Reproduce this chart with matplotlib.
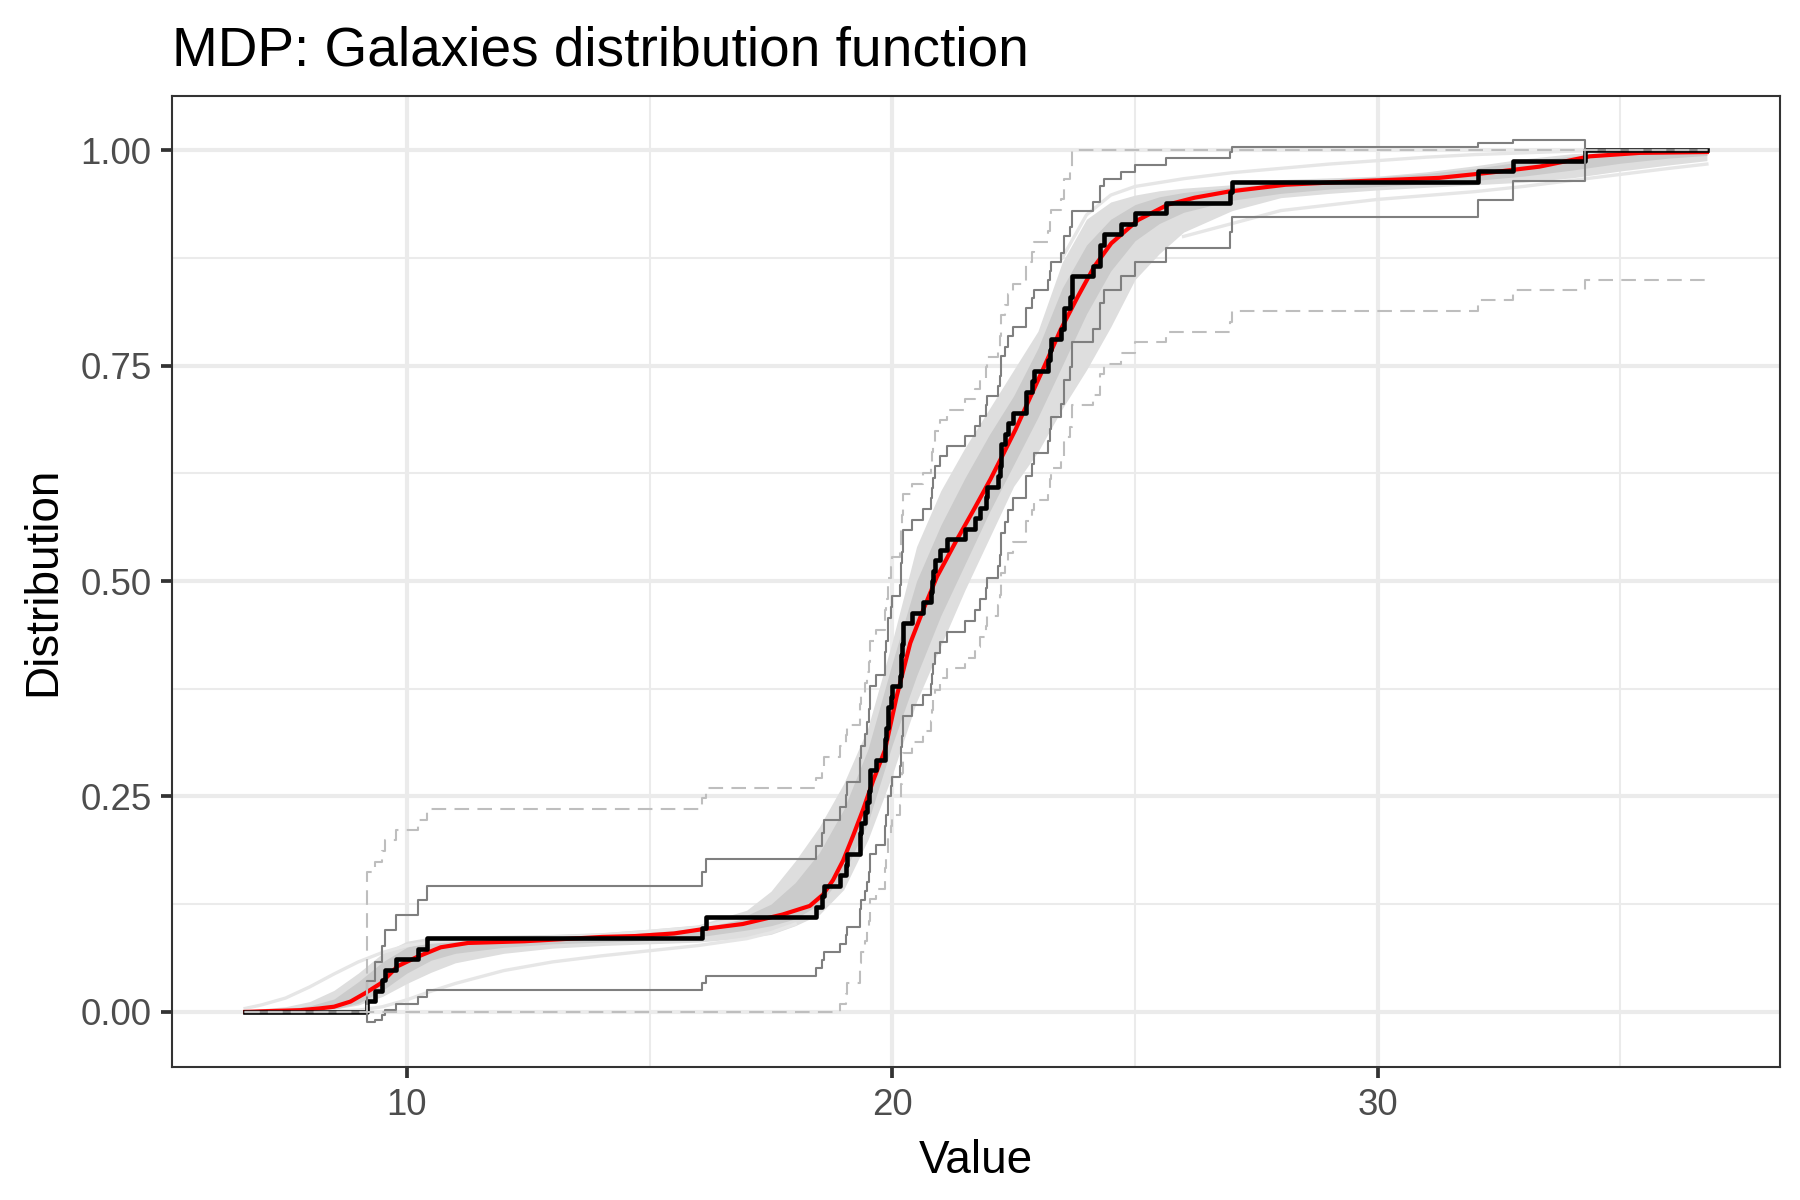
import matplotlib
matplotlib.use("Agg")
import matplotlib.pyplot as plt
import numpy as np

plt.rcParams['font.family'] = ['Liberation Sans', 'DejaVu Sans']

# galaxies velocities (1000 km/s)
galaxies = [9.172, 9.350, 9.483, 9.558, 9.775, 10.227, 10.406, 16.084, 16.170, 18.419,
            18.552, 18.600, 18.927, 19.052, 19.070, 19.330, 19.343, 19.349, 19.440, 19.473,
            19.529, 19.541, 19.547, 19.663, 19.846, 19.856, 19.863, 19.914, 19.918, 19.973,
            19.989, 20.166, 20.175, 20.179, 20.196, 20.215, 20.221, 20.415, 20.629, 20.795,
            20.821, 20.846, 20.875, 20.986, 21.137, 21.492, 21.701, 21.814, 21.921, 21.960,
            22.185, 22.209, 22.242, 22.249, 22.314, 22.374, 22.495, 22.746, 22.747, 22.888,
            22.914, 23.206, 23.241, 23.263, 23.484, 23.538, 23.542, 23.666, 23.706, 23.711,
            24.129, 24.285, 24.289, 24.366, 24.717, 24.990, 25.633, 26.960, 26.995, 32.065,
            32.789, 34.279]
x_lo, x_hi = 6.67, 36.78

# pointwise band (solid) read at each observation
upper_solid = [.036, .058, .077, .095, .113, .130, .146, .162, .178, .193,
               .208, .223, .238, .252, .267, .281, .295, .309, .323, .337,
               .351, .364, .378, .391, .405, .418, .431, .444, .457, .470,
               .483, .496, .509, .521, .534, .546, .559, .571, .584, .596,
               .608, .620, .633, .645, .657, .668, .680, .692, .704, .715,
               .727, .738, .750, .761, .772, .784, .795, .806, .817, .828,
               .838, .849, .860, .870, .881, .891, .901, .911, .921, .930,
               .940, .949, .958, .967, .975, .983, .991, .998, 1.004, 1.009,
               1.0116, 1.0]
lower_solid = [-.012, -.009, -.004, .002, .009, .017, .025, .033, .042, .051,
               .060, .070, .079, .089, .099, .109, .120, .130, .140, .151,
               .162, .172, .183, .194, .205, .216, .228, .239, .250, .262,
               .273, .285, .296, .308, .320, .332, .344, .356, .368, .380,
               .392, .404, .416, .429, .441, .454, .466, .479, .492, .504,
               .517, .530, .543, .556, .569, .582, .596, .609, .622, .636,
               .649, .663, .677, .691, .705, .719, .733, .748, .762, .777,
               .792, .807, .823, .838, .854, .870, .887, .905, .923, .942,
               .964, 1.0]
# simultaneous band (dashed)
upper_dash = [.162, .174, .187, .199, .211, .223, .235, .248, .260, .272,
              .284, .296, .309, .321, .333, .345, .357, .370, .382, .394,
              .406, .418, .431, .443, .455, .467, .479, .492, .504, .516,
              .528, .540, .552, .565, .577, .589, .601, .613, .626, .638,
              .650, .662, .674, .687, .699, .711, .723, .735, .748, .760,
              .772, .784, .796, .809, .821, .833, .845, .857, .870, .882,
              .894, .906, .918, .931, .943, .955, .967, .979, .992, 1.0,
              1.0, 1.0, 1.0, 1.0, 1.0, 1.0, 1.0, 1.0, 1.0, 1.0,
              1.0, 1.0]
lower_dash = [0, 0, 0, 0, 0, 0, 0, 0, 0, 0,
              0, 0, .009, .021, .033, .045, .057, .070, .082, .094,
              .106, .118, .131, .143, .155, .167, .179, .192, .204, .216,
              .228, .240, .252, .265, .277, .289, .301, .313, .326, .338,
              .350, .362, .374, .387, .399, .411, .423, .435, .448, .460,
              .472, .484, .496, .509, .521, .533, .545, .557, .570, .582,
              .594, .606, .618, .631, .643, .655, .667, .679, .692, .704,
              .716, .728, .740, .752, .765, .777, .789, .801, .813, .826,
              .838, .850]
lower_dash_end = 0.85

# posterior mean distribution (red)
mean_x = [6.67, 7.20, 7.81, 8.20, 8.50, 8.84, 9.15, 9.46, 9.81, 10.22, 10.70, 11.26, 12.42,
          14.02, 14.70, 15.50, 16.09, 16.92, 17.74, 18.30, 18.57, 18.78, 18.99, 19.19, 19.40,
          19.61, 19.85, 20.09, 20.37, 20.64, 20.92, 21.33, 21.68, 22.02, 22.30, 22.54, 23.13,
          23.47, 23.82, 24.16, 24.51, 25.06, 25.68, 26.23, 26.92, 28.10, 29.54, 31.27, 32.30,
          33.33, 34.37, 35.40, 36.78]
mean_y = [0.000, 0.001, 0.002, 0.004, 0.006, 0.012, 0.022, 0.033, 0.053, 0.064, 0.075, 0.080, 0.082,
          0.087, 0.088, 0.091, 0.096, 0.102, 0.113, 0.123, 0.136, 0.153, 0.176, 0.204, 0.235,
          0.269, 0.304, 0.366, 0.428, 0.467, 0.505, 0.548, 0.583, 0.618, 0.649, 0.676, 0.749,
          0.792, 0.830, 0.865, 0.892, 0.919, 0.937, 0.945, 0.952, 0.960, 0.964, 0.968, 0.974,
          0.981, 0.993, 0.997, 0.998]

# spread of posterior draws (grey): outer envelope and dense core
draws_x = [6.67, 7.5, 8.0, 8.5, 9.0, 9.5, 10.0, 10.5, 11.0, 12.0, 13.0, 14.0, 15.0, 16.0,
           17.0, 17.5, 18.0, 18.5, 19.0, 19.5, 20.0, 20.5, 21.0, 21.5, 22.0, 22.5, 23.0,
           23.5, 24.0, 24.5, 25.0, 25.5, 26.0, 27.0, 28.0, 29.0, 30.0, 31.0, 32.0, 33.0,
           34.0, 35.0, 36.0, 36.78]
draws_lo = [0.000, 0.000, 0.001, 0.003, 0.008, 0.018, 0.033, 0.046, 0.057, 0.068, 0.074, 0.077,
            0.079, 0.081, 0.086, 0.090, 0.100, 0.113, 0.142, 0.200, 0.275, 0.360, 0.425, 0.490,
            0.550, 0.610, 0.650, 0.700, 0.745, 0.795, 0.850, 0.880, 0.905, 0.930, 0.945, 0.950,
            0.954, 0.957, 0.960, 0.963, 0.968, 0.976, 0.983, 0.988]
draws_hi = [0.002, 0.006, 0.012, 0.025, 0.045, 0.068, 0.082, 0.087, 0.088, 0.089, 0.090, 0.092,
            0.096, 0.101, 0.118, 0.140, 0.175, 0.215, 0.265, 0.330, 0.430, 0.540, 0.605, 0.655,
            0.700, 0.745, 0.790, 0.870, 0.920, 0.940, 0.948, 0.953, 0.956, 0.960, 0.966, 0.968,
            0.970, 0.975, 0.982, 0.990, 0.996, 0.999, 1.000, 1.000]
core_lo = [0.000, 0.000, 0.001, 0.003, 0.010, 0.025, 0.045, 0.060, 0.068, 0.075, 0.079, 0.081,
           0.083, 0.087, 0.095, 0.100, 0.108, 0.125, 0.160, 0.220, 0.310, 0.390, 0.460, 0.520,
           0.580, 0.635, 0.690, 0.750, 0.810, 0.860, 0.895, 0.915, 0.928, 0.942, 0.950, 0.955,
           0.958, 0.961, 0.965, 0.970, 0.977, 0.985, 0.991, 0.994]
core_hi = [0.001, 0.003, 0.007, 0.015, 0.035, 0.058, 0.075, 0.083, 0.086, 0.087, 0.088, 0.090,
           0.093, 0.099, 0.112, 0.125, 0.150, 0.185, 0.235, 0.305, 0.405, 0.500, 0.565, 0.620,
           0.670, 0.715, 0.770, 0.840, 0.890, 0.920, 0.937, 0.946, 0.951, 0.957, 0.962, 0.966,
           0.969, 0.973, 0.979, 0.987, 0.993, 0.997, 0.999, 1.000]
early_x = [6.67, 7.0, 7.5, 8.0, 8.5, 9.0, 9.5, 10.0, 10.5, 11.0, 12.0, 14.0, 16.0, 17.0]
early_y = [0.004, 0.008, 0.016, 0.029, 0.044, 0.058, 0.069, 0.077, 0.081, 0.083, 0.085, 0.089, 0.098, 0.110]
late_x = [6.67, 8.0, 9.0, 9.5, 10.0, 10.5, 11.0, 12.0, 13.0, 14.0, 15.0, 16.0, 17.0, 17.5, 18.0]
late_y = [0.0, 0.0, 0.002, 0.006, 0.014, 0.024, 0.033, 0.048, 0.058, 0.065, 0.071, 0.077, 0.085, 0.092, 0.102]
high_x = [23.5, 24.0, 24.5, 25.0, 26.0, 27.0, 28.0, 29.0, 30.0, 31.0, 32.0, 33.0, 34.0, 35.0, 36.78]
high_y = [0.875, 0.925, 0.948, 0.958, 0.967, 0.974, 0.979, 0.984, 0.988, 0.992, 0.995, 0.997, 0.999, 1.0, 1.0]
low_x = [26.0, 28.0, 30.0, 32.0, 33.0, 34.0, 35.0, 36.0, 36.78]
low_y = [0.90, 0.930, 0.943, 0.952, 0.958, 0.965, 0.972, 0.979, 0.984]


def steps(vals, start=0.0, end=None):
    xs = [x_lo] + galaxies + [x_hi]
    ys = [start] + list(vals) + [vals[-1] if end is None else end]
    return xs, ys


fig = plt.figure(figsize=(6, 4), dpi=300)
ax = fig.add_axes([0.0956, 0.1108, 0.8934, 0.8092])

ax.fill_between(draws_x, draws_lo, draws_hi, color='#dedede', lw=0, zorder=2)
ax.fill_between(draws_x, core_lo, core_hi, color='#cbcbcb', lw=0, zorder=2)
for xs, ys in [(early_x, early_y), (late_x, late_y), (high_x, high_y), (low_x, low_y)]:
    ax.plot(xs, ys, color='#e6e6e6', lw=0.8, zorder=2)

ax.plot(mean_x, mean_y, color='#ff0000', lw=1.0, zorder=3)

ecdf = np.arange(1, len(galaxies) + 1) / len(galaxies)
xs, ys = steps(ecdf)
ax.step(xs, ys, where='post', color='black', lw=1.1, zorder=4)

for band in (upper_solid, lower_solid):
    xs, ys = steps(band)
    ax.step(xs, ys, where='post', color='#7f7f7f', lw=0.5, zorder=5)
xs, ys = steps(upper_dash)
ax.step(xs, ys, where='post', color='#bebebe', lw=0.5, ls=(0, (7, 4)), zorder=5)
xs, ys = steps(lower_dash, end=lower_dash_end)
ax.step(xs, ys, where='post', color='#bebebe', lw=0.5, ls=(0, (7, 4)), zorder=5)

ax.set_xlim(5.165, 38.29)
ax.set_ylim(-0.064, 1.063)
ax.set_xticks([10, 20, 30])
ax.set_xticks([15, 25, 35], minor=True)
ax.set_yticks([0, 0.25, 0.5, 0.75, 1.0])
ax.set_yticklabels(['0.00', '0.25', '0.50', '0.75', '1.00'])
ax.set_yticks([0.125, 0.375, 0.625, 0.875], minor=True)
ax.grid(which='major', color='#ebebeb', lw=1.0)
ax.grid(which='minor', color='#ebebeb', lw=0.5)
ax.set_axisbelow(True)
ax.tick_params(which='major', length=2.75, width=0.9, color='#333333',
               labelsize=8.8, labelcolor='#4d4d4d', pad=2.2)
ax.tick_params(which='minor', length=0)
for s in ax.spines.values():
    s.set_color('#333333')
    s.set_linewidth(0.5)

fig.text(0.5422, 0.0225, 'Value', ha='center', va='baseline', fontsize=11)
fig.text(0.024, 0.5155, 'Distribution', ha='center', va='center', rotation=90, fontsize=11)
fig.text(0.0956, 0.945, 'MDP: Galaxies distribution function', ha='left', va='baseline', fontsize=13.2)

fig.savefig('out.png', dpi=300)
